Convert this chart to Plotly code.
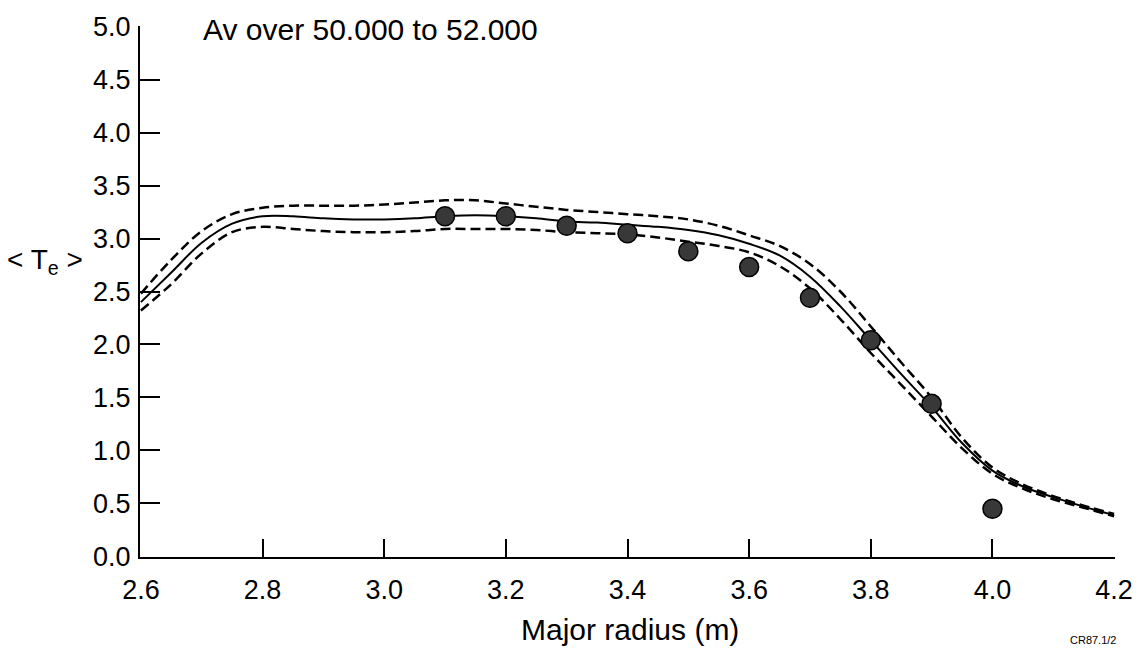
import plotly.graph_objects as go

# Curve grid (major radius, m)
r_curve = [2.6, 2.65, 2.7, 2.75, 2.8, 2.85, 2.9, 2.95, 3.0, 3.05, 3.1, 3.15, 3.2, 3.25,
           3.3, 3.35, 3.4, 3.45, 3.5, 3.55, 3.6, 3.65, 3.7, 3.75, 3.8, 3.85, 3.9, 3.95,
           4.0, 4.05, 4.1, 4.15, 4.2]
te_fit = [2.40, 2.68, 2.96, 3.14, 3.21, 3.21, 3.19, 3.18, 3.18, 3.19, 3.21, 3.22, 3.21, 3.19,
          3.16, 3.15, 3.13, 3.11, 3.08, 3.03, 2.95, 2.84, 2.64, 2.36, 2.04, 1.72, 1.41, 1.07,
          0.81, 0.66, 0.56, 0.47, 0.39]
te_upper = [2.48, 2.80, 3.07, 3.23, 3.29, 3.31, 3.31, 3.31, 3.32, 3.34, 3.36, 3.36, 3.33, 3.30,
            3.27, 3.25, 3.23, 3.21, 3.18, 3.12, 3.03, 2.93, 2.76, 2.50, 2.17, 1.83, 1.50, 1.12,
            0.84, 0.68, 0.57, 0.48, 0.40]
te_lower = [2.32, 2.57, 2.86, 3.06, 3.11, 3.09, 3.07, 3.06, 3.06, 3.07, 3.09, 3.09, 3.09, 3.08,
            3.06, 3.05, 3.04, 3.01, 2.97, 2.93, 2.87, 2.74, 2.53, 2.24, 1.92, 1.62, 1.32, 1.02,
            0.78, 0.64, 0.54, 0.46, 0.38]

# Measured points
r_points = [3.1, 3.2, 3.3, 3.4, 3.5, 3.6, 3.7, 3.8, 3.9, 4.0]
te_points = [3.21, 3.21, 3.12, 3.05, 2.88, 2.73, 2.44, 2.04, 1.44, 0.45]

x_ticks = [2.6, 2.8, 3.0, 3.2, 3.4, 3.6, 3.8, 4.0, 4.2]
y_ticks = [0.0, 0.5, 1.0, 1.5, 2.0, 2.5, 3.0, 3.5, 4.0, 4.5, 5.0]

FONT = "Liberation Sans, Arial, sans-serif"

W, H = 1147, 651
L, R, T, B = 140, 32, 19, 94
pw, ph = W - L - R, H - T - B


def px(xp):
    return (xp - L) / pw


def py(yp):
    return (H - B - yp) / ph


fig = go.Figure()
for ys in (te_upper, te_lower):
    fig.add_trace(go.Scatter(x=r_curve, y=ys, mode="lines",
                             line=dict(color="black", width=2.5, dash="10px,5px", shape="spline"),
                             showlegend=False, hoverinfo="skip"))
fig.add_trace(go.Scatter(x=r_curve, y=te_fit, mode="lines",
                         line=dict(color="black", width=2, shape="spline"),
                         showlegend=False))
fig.add_trace(go.Scatter(x=r_points, y=te_points, mode="markers",
                         marker=dict(size=19, color="#383838",
                                     line=dict(color="black", width=1.5)),
                         showlegend=False))

fig.update_layout(
    width=W, height=H,
    margin=dict(l=L, r=R, t=T, b=B),
    paper_bgcolor="white", plot_bgcolor="white",
    font=dict(family=FONT, color="black", size=27),
    xaxis=dict(range=[2.5985, 4.2015], tickvals=x_ticks, ticktext=[f"{v:.1f}" for v in x_ticks],
               ticks="inside", ticklen=18, tickwidth=2, tickcolor="black",
               showline=True, linecolor="black", linewidth=2,
               showgrid=False, zeroline=False, ticklabelstandoff=8,
               tickfont=dict(size=27, family=FONT, color="black")),
    yaxis=dict(range=[-0.005, 5.005], tickvals=y_ticks, ticktext=[f"{v:.1f}" for v in y_ticks],
               ticks="inside", ticklen=20, tickwidth=2, tickcolor="black",
               showline=True, linecolor="black", linewidth=2,
               showgrid=False, zeroline=False, ticklabelstandoff=2,
               tickfont=dict(size=27, family=FONT, color="black")),
    annotations=[
        dict(text="Av over 50.000 to 52.000", xref="paper", yref="paper",
             x=px(201), y=py(23), xanchor="left", yanchor="middle",
             showarrow=False, font=dict(size=30, family=FONT, color="black")),
        dict(text="Major radius (m)", xref="paper", yref="paper",
             x=px(630), y=py(630), xanchor="center", yanchor="middle",
             showarrow=False, font=dict(size=30, family=FONT, color="black")),
        dict(text="&lt; T<sub>e</sub> &gt;", xref="paper", yref="paper",
             x=px(45), y=py(258), xanchor="center", yanchor="middle",
             showarrow=False, font=dict(size=28, family=FONT, color="black")),
        dict(text="CR87.1/2", xref="paper", yref="paper",
             x=px(1093), y=py(641), xanchor="center", yanchor="middle",
             showarrow=False, font=dict(size=11, family=FONT, color="black")),
    ],
)

fig.write_html("out.html")
